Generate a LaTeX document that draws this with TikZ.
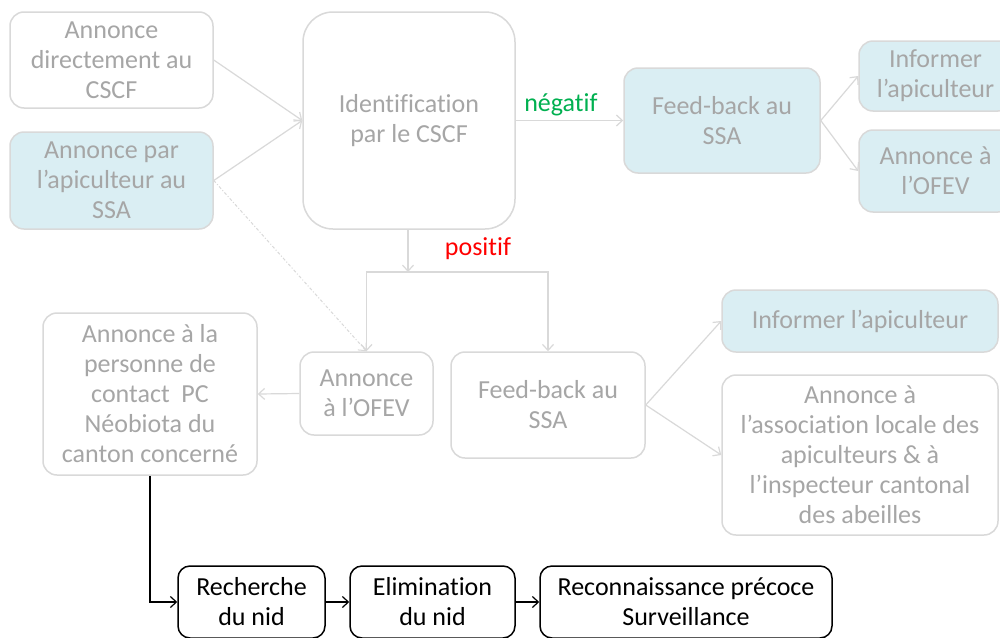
\documentclass[tikz,border=0pt]{standalone}
\usepackage{fontspec}
\setmainfont{Carlito}[Ligatures={NoCommon}]
\usetikzlibrary{arrows.meta}
\definecolor{lgray}{HTML}{D9D9D9}
\definecolor{tgray}{HTML}{A6A6A6}
\definecolor{lblue}{HTML}{DAEEF3}
\definecolor{vgreen}{HTML}{00B050}
\begin{document}
\begin{tikzpicture}[x=1pt,y=-1pt,
  box/.style={draw=lgray, line width=1.5pt, rounded corners=14pt, align=center,
    text=tgray, font=\fontsize{26}{30}\selectfont, inner sep=0pt},
  bbox/.style={box, fill=lblue},
  kbox/.style={draw=black, line width=1.5pt, rounded corners=12pt, align=center,
    text=black, font=\fontsize{26}{30}\selectfont, inner sep=0pt},
  conn/.style={draw=lgray, line width=1.2pt, -{Straight Barb[length=6pt,width=11pt]}},
  kconn/.style={draw=black, line width=1.2pt, -{Straight Barb[length=6pt,width=11pt]}},
  lbl/.style={font=\fontsize{26}{30}\selectfont}
]
\useasboundingbox[fill=white] (0,0) rectangle (1000,637);
% top-left
\node[box, minimum width=203pt, minimum height=96pt] (a) at (111.5,60) {Annonce\\directement au\\CSCF};
\node[bbox, minimum width=203pt, minimum height=97pt] (b) at (111.5,180.5) {Annonce par\\l’apiculteur au\\SSA};
\node[box, rounded corners=30pt, minimum width=212pt, minimum height=217pt] (id) at (409,120.5) {Identification\\par le CSCF};
\node[bbox, minimum width=196pt, minimum height=105pt] (fb1) at (722,120.5) {Feed-back au\\SSA};
\node[bbox, minimum width=153pt, minimum height=70pt] (inf1) at (935.5,76) {Informer\\l’apiculteur};
\node[bbox, minimum width=153pt, minimum height=82pt] (of1) at (935.5,171) {Annonce à\\l’OFEV};
% middle
\node[box, minimum width=133pt, minimum height=83pt] (of2) at (366.5,393.5) {Annonce\\à l’OFEV};
\node[box, minimum width=194pt, minimum height=106pt] (fb2) at (548,405) {Feed-back au\\SSA};
\node[box, minimum width=214pt, minimum height=162pt] (pc) at (150,394) {Annonce à la\\personne de\\contact~ PC\\Néobiota du\\canton concerné};
\node[bbox, minimum width=276pt, minimum height=62pt] (inf2) at (860,321) {Informer l’apiculteur};
\node[box, minimum width=276pt, minimum height=160pt] (as) at (860,455) {Annonce à\\l’association locale des\\apiculteurs \& à\\l’inspecteur cantonal\\des abeilles};
% bottom
\node[kbox, minimum width=147pt, minimum height=72pt] (r1) at (251.5,602) {Recherche\\du nid};
\node[kbox, minimum width=165pt, minimum height=72pt] (r2) at (432.5,602) {Elimination\\du nid};
\node[kbox, minimum width=292pt, minimum height=72pt] (r3) at (686,602) {Reconnaissance précoce\\Surveillance};
% connectors
\draw[conn] (a.east) -- (id.west);
\draw[conn] (b.east) -- (id.west);
\draw[conn] (id.east) -- (fb1.west) node[lbl, text=vgreen, pos=0.42, above=1pt] {négatif};
\draw[conn] (fb1.east) -- (inf1.west);
\draw[conn] (fb1.east) -- (of1.west);
\coordinate (j) at (408,272);
\draw[conn] (id.south -| j) -- (j);
\draw[conn] (j) -| (of2.north);
\draw[conn] (j) -| (fb2.north);
\node[lbl, text=red] (pos) at (478,249) {positif};
\draw[lgray, line width=1pt, dash dot, -{Straight Barb[length=6pt,width=11pt]}] (b.east) -- (of2.north);
\draw[conn] (of2.west) -- (pc.east);
\draw[conn] (fb2.east) -- (inf2.west);
\draw[conn] (fb2.east) -- (as.west);
\draw[kconn] (pc.south) |- (r1.west);
\draw[kconn] (r1.east) -- (r2.west);
\draw[kconn] (r2.east) -- (r3.west);
\end{tikzpicture}
\end{document}
